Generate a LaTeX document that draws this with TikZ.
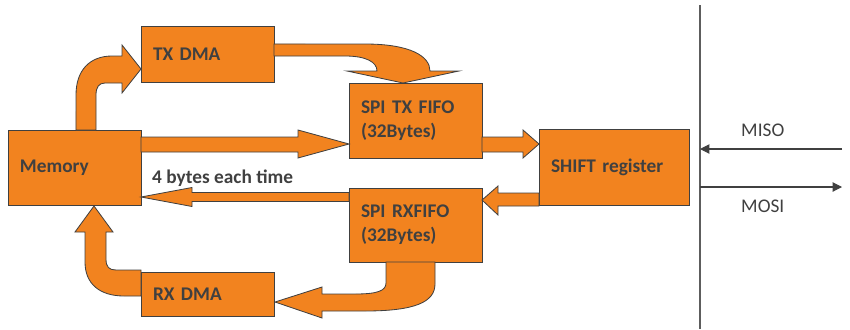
\documentclass[tikz,border=0pt]{standalone}
\usepackage{fontspec}
\setmainfont{Carlito}
\usepackage{tikz}
\usetikzlibrary{positioning, arrows.meta, calc}

\definecolor{boxorange}{RGB}{242,131,31}
\definecolor{boxline}{RGB}{64,64,64}
\definecolor{textgray}{RGB}{64,64,64}

\begin{document}
\begin{tikzpicture}[
					x=0.03cm, y=-0.03cm,
					% --- Styles ---
					box/.style={
						rectangle, draw=boxline, fill=boxorange, line width=0.7pt, outer sep=0pt,
						inner xsep=0.36cm, text width=3.27cm, align=left, text=textgray,
						font=\bfseries\fontsize{16.5}{20.5}\selectfont
					},
					blockarrow/.style={
						fill=boxorange, draw=boxline, line width=0.7pt, line join=miter
					},
					busline/.style={
						draw=boxline!85, line width=1.1pt
					},
					signal/.style={
						draw=boxline, line width=0.9pt, -{Triangle[length=0.28cm, width=0.28cm]}
					},
					note/.style={
						text=textgray, inner sep=0pt, font=\fontsize{16.5}{20.5}\selectfont
					}
					]
					
					\useasboundingbox (0,0) rectangle (850,329);
					
					% --- 1. Blocks ---
					\node [box, minimum height=2.25cm] (memory) at (74.5,167.5) {Memory};
					\node [box, minimum height=1.68cm, above right=1.44cm and 0cm of memory] (txdma) {TX DMA};
					\node [box, minimum height=2.25cm, below right=0.03cm and 2.25cm of txdma] (txfifo) {SPI TX FIFO\\(32Bytes)};
					\node [box, minimum height=2.22cm, below=0.9cm of txfifo] (rxfifo) {SPI RXFIFO\\(32Bytes)};
					\node [box, minimum height=1.32cm, below left=0.3cm and 2.25cm of rxfifo] (rxdma) {RX DMA};
					\node [box, minimum height=2.28cm, text width=3.78cm, right=11.94cm of memory] (shift) {SHIFT register};
					
					% --- 2. Block arrows ---
					% Memory -> TX DMA (bent up)
					\coordinate (up1) at ($(memory.north west)+(68,0)$);
					\draw [blockarrow] (up1) -- (76,95) .. controls (76,70) and (90,56) .. (112,56) -- (122,56) -- (122,45)
					-- ($(txdma.west)+(0,15)$) -- (122,93) -- (122,83) -- (105,83) .. controls (99,83) and (96,87) .. (96,95) -- (96,130) -- cycle;
					
					% TX DMA -> SPI TX FIFO (curved down)
					\draw [blockarrow] ($(txdma.east)+(0,-10)$) -- (365,44) .. controls (410,44) and (430,56) .. (430,71) -- (459,71)
					-- ($(txfifo.north)+(-12.5,0)$) -- (347,71) -- (377,71) .. controls (377,62) and (366,56) .. (345,56) -- (274,56) -- cycle;
					
					% Memory -> SPI TX FIFO
					\draw [blockarrow] ($(memory.north east)+(0,7)$) -- (298,137) -- (298,130)
					-- ($(txfifo.west)+(0,23.5)$) -- (298,158) -- (298,152) -- (141,152) -- cycle;
					
					% SPI TX FIFO -> SHIFT register
					\draw [blockarrow] ($(txfifo.east)+(0,16.5)$) -- (523,137) -- (523,130)
					-- ($(shift.west)+(0,-23.5)$) -- (523,158) -- (523,152) -- (482,152) -- cycle;
					
					% SHIFT register -> SPI RXFIFO
					\draw [blockarrow] ($(shift.west)+(0,25.5)$) -- (498,193) -- (498,186)
					-- ($(rxfifo.east)+(0,-25)$) -- (498,215) -- (498,206) -- (539,206) -- cycle;
					
					% SPI RXFIFO -> Memory
					\draw [blockarrow] ($(rxfifo.west)+(0,-32.5)$) -- (192,192.5) -- (192,187.5)
					-- ($(memory.east)+(0,29.5)$) -- (192,206.5) -- (192,201.5) -- (349,201.5) -- cycle;
					
					% SPI RXFIFO -> RX DMA (curved down)
					\draw [blockarrow] ($(rxfifo.south west)+(37,0)$) -- (386,283) .. controls (386,291) and (377,294) .. (355,294) -- (322,294) -- (322,287)
					-- ($(rxdma.east)+(1,8)$) -- (322,318) -- (322,311) -- (365,311) .. controls (415,311) and (435,302) .. (435,284) -- (435,262) -- cycle;
					
					% RX DMA -> Memory (bent up)
					\draw [blockarrow] ($(rxdma.west)+(0,-24)$) -- (116,270) .. controls (109,270) and (106,267) .. (106,259) -- (106,232) -- (113,232)
					-- ($(memory.south)+(19.5,1)$) -- (75,232) -- (85,232) -- (85,262) .. controls (85,284) and (100,296) .. (124,296) -- (141,296) -- cycle;
					
					% Label on the return path
					\node [note, font=\bfseries\fontsize{16.5}{20.5}\selectfont, anchor=base west] (bytes) at (152,183) {4 bytes each time};
					
					% --- 3. Bus side ---
					\coordinate (bustop) at (700,5);
					\coordinate (busbot) at (700,329);
					\draw [busline] (bustop) -- (busbot);
					
					\coordinate (misoin) at (842,149);
					\coordinate (mosiout) at (842,187);
					\draw [signal] (misoin) -- (misoin -| bustop);
					\draw [signal] (mosiout -| bustop) -- (mosiout);
					
					\node [note, anchor=base west] (miso) at (741,136.5) {MISO};
					\node [note, anchor=base west] (mosi) at (741,212) {MOSI};
					
				\end{tikzpicture}
\end{document}
